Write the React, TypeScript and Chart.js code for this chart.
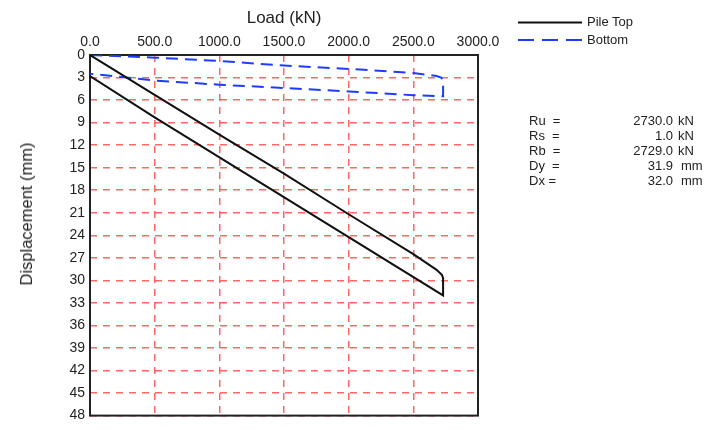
import React, { useEffect, useRef } from 'react';
import { Chart, registerables } from 'chart.js';

Chart.register(...registerables);

// Axis ticks
const xTicks = [0, 500, 1000, 1500, 2000, 2500, 3000];
const yTicks = [0, 3, 6, 9, 12, 15, 18, 21, 24, 27, 30, 33, 36, 39, 42, 45, 48];

// Pile Top curve (load kN, displacement mm)
const pileTopLoad = [0, 500, 1000, 1500, 2000, 2500, 2680, 2722, 2730, 2730, 500, 0];
const pileTopDisp = [0, 5.3, 10.6, 15.8, 21.2, 26.5, 28.6, 29.3, 29.7, 32.0, 8.3, 2.8];

// Bottom curve
const bottomLoad = [0, 500, 1000, 1500, 2000, 2500, 2680, 2715, 2730, 2730, 2715, 2500, 2000, 1500, 1000, 500, 0];
const bottomDisp = [0, 0.35, 0.8, 1.4, 1.85, 2.4, 2.8, 3.0, 3.4, 5.5, 5.5, 5.35, 4.85, 4.4, 3.95, 3.4, 2.5];

const legendLabels = ['Pile Top', 'Bottom'];
const resultNames = ['Ru  =', 'Rs  =', 'Rb  =', 'Dy  =', 'Dx ='];
const resultValues = ['2730.0', '1.0', '2729.0', '31.9', '32.0'];
const resultUnits = ['kN', 'kN', 'kN', 'mm', 'mm'];

const FONT = '"Liberation Sans", Arial, sans-serif';
const TEXT = '#222';
const GRID = 'rgba(255, 60, 60, 0.78)';

const framePlugin = {
  id: 'frame',
  beforeDatasetsDraw(chart: any) {
    const { ctx, chartArea } = chart;
    const { left, top, right, bottom } = chartArea;
    ctx.save();
    ctx.strokeStyle = '#222';
    ctx.lineWidth = 2;
    ctx.setLineDash([]);
    ctx.strokeRect(left, top, right - left, bottom - top);
    ctx.restore();
  },
};

export default function App() {
  const ref = useRef<HTMLCanvasElement | null>(null);

  useEffect(() => {
    if (!ref.current) return;
    const chart = new Chart(ref.current, {
      type: 'scatter',
      data: {
        datasets: [
          {
            label: legendLabels[0],
            data: pileTopLoad.map((x, i) => ({ x, y: pileTopDisp[i] })),
            showLine: true,
            borderColor: '#111',
            borderWidth: 2,
            pointRadius: 0,
            fill: false,
            tension: 0,
          },
          {
            label: legendLabels[1],
            data: bottomLoad.map((x, i) => ({ x, y: bottomDisp[i] })),
            showLine: true,
            borderColor: '#1e3cff',
            borderWidth: 2,
            borderDash: [12, 7],
            pointRadius: 0,
            fill: false,
            tension: 0,
          },
        ],
      },
      options: {
        responsive: false,
        animation: false,
        devicePixelRatio: 1,
        layout: { padding: { left: 0, top: 0, right: 239, bottom: 5 } },
        plugins: {
          legend: { display: false },
          tooltip: { enabled: false },
        },
        scales: {
          x: {
            type: 'linear',
            position: 'top',
            min: 0,
            max: 3000,
            afterBuildTicks: (s: any) => {
              s.ticks = xTicks.map((v) => ({ value: v }));
            },
            afterFit: (s: any) => {
              s.height = 55;
            },
            ticks: {
              callback: (v: any) => Number(v).toFixed(1),
              font: { family: FONT, size: 14 },
              color: TEXT,
              padding: 4,
              maxRotation: 0,
              autoSkip: false,
            },
            grid: { color: GRID, lineWidth: 1.5, drawTicks: false },
            border: { display: false, dash: [7, 6] },
            title: {
              display: true,
              text: 'Load (kN)',
              font: { family: FONT, size: 17 },
              color: TEXT,
              padding: { top: 8, bottom: 0 },
            },
          },
          y: {
            type: 'linear',
            reverse: true,
            min: 0,
            max: 48,
            afterBuildTicks: (s: any) => {
              s.ticks = yTicks.map((v) => ({ value: v }));
            },
            afterFit: (s: any) => {
              s.width = 90;
            },
            ticks: {
              callback: (v: any) => String(v),
              font: { family: FONT, size: 14 },
              color: TEXT,
              padding: 5,
              autoSkip: false,
            },
            grid: { color: GRID, lineWidth: 1.5, drawTicks: false },
            border: { display: false, dash: [7, 6] },
          },
        },
      },
      plugins: [framePlugin],
    } as any);
    return () => chart.destroy();
  }, []);

  const rowTop = (i: number) => 113 + i * 15.1;

  return (
    <div style={{ position: 'fixed', left: 0, top: 0, width: 717, height: 429, background: '#fff', fontFamily: FONT, color: TEXT }}>
      <canvas ref={ref} width={717} height={429} style={{ position: 'absolute', left: 0, top: 0, width: 717, height: 429 }} />
      <div
        style={{
          position: 'absolute',
          left: 26,
          top: 214,
          transform: 'translate(-50%, -50%) rotate(-90deg)',
          whiteSpace: 'nowrap',
          fontSize: 16.5,
          lineHeight: '20px',
        }}
      >
        Displacement (mm)
      </div>
      <svg width={717} height={60} style={{ position: 'absolute', left: 0, top: 0 }}>
        <line x1={518} y1={22.5} x2={582} y2={22.5} stroke="#111" strokeWidth={2} />
        <line x1={518} y1={40} x2={582} y2={40} stroke="#1e3cff" strokeWidth={2} strokeDasharray="16 8" />
      </svg>
      {legendLabels.map((t, i) => (
        <div key={t} style={{ position: 'absolute', left: 587, top: (i === 0 ? 22 : 40) - 8, fontSize: 13, lineHeight: '16px', whiteSpace: 'nowrap' }}>
          {t}
        </div>
      ))}
      {resultNames.map((n, i) => (
        <React.Fragment key={n}>
          <div style={{ position: 'absolute', left: 529, top: rowTop(i), fontSize: 13, lineHeight: '15px', whiteSpace: 'pre' }}>{n}</div>
          <div style={{ position: 'absolute', right: 717 - 673, top: rowTop(i), fontSize: 13, lineHeight: '15px', textAlign: 'right', whiteSpace: 'nowrap' }}>{resultValues[i]}</div>
          <div style={{ position: 'absolute', left: resultUnits[i] === 'kN' ? 678 : 681, top: rowTop(i), fontSize: 13, lineHeight: '15px', whiteSpace: 'nowrap' }}>{resultUnits[i]}</div>
        </React.Fragment>
      ))}
    </div>
  );
}
